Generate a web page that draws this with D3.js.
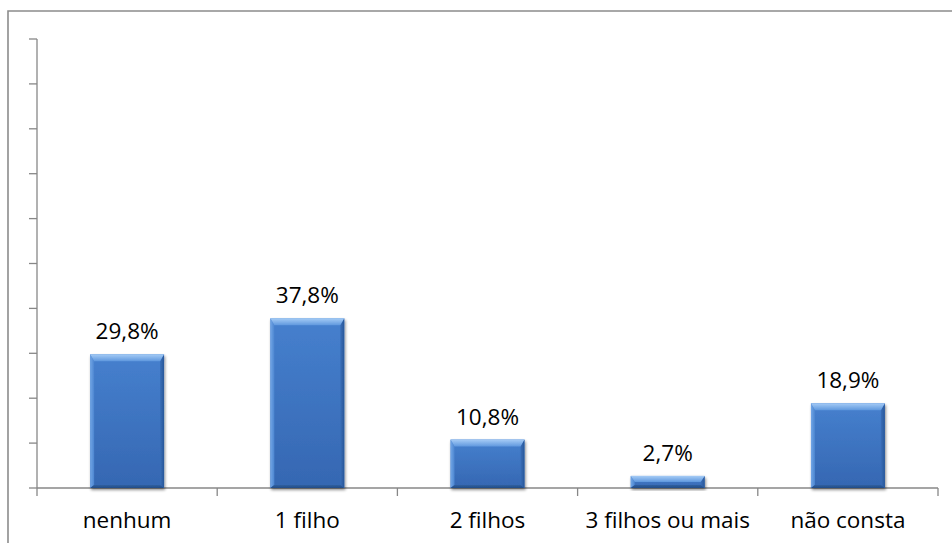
<!DOCTYPE html>
<html>
<head>
<meta charset="utf-8">
<script src="https://cdn.jsdelivr.net/npm/d3@7"></script>
<style>
  html, body { margin: 0; padding: 0; background: #fff; overflow: hidden; }
  svg { display: block; }
  text { font-family: "Open Sans", "Noto Sans", sans-serif; fill: #000; }
</style>
</head>
<body>
<script>
// Number of children: share of respondents (%)
const categories = ["nenhum", "1 filho", "2 filhos", "3 filhos ou mais", "não consta"];
const values = [29.8, 37.8, 10.8, 2.7, 18.9];
const valueLabels = ["29,8%", "37,8%", "10,8%", "2,7%", "18,9%"];
const yTicks = [0, 10, 20, 30, 40, 50, 60, 70, 80, 90, 100];

const W = 952, H = 543;
const plot = { left: 37, right: 938, top: 39, bottom: 488 };

const svg = d3.select("body").append("svg").attr("width", W).attr("height", H);
const defs = svg.append("defs");

// Gradients for the bevelled bar look
function vGrad(id, stops) {
  const g = defs.append("linearGradient").attr("id", id)
    .attr("x1", 0).attr("y1", 0).attr("x2", 0).attr("y2", 1);
  stops.forEach(([o, c]) => g.append("stop").attr("offset", o).attr("stop-color", c));
}
function hGrad(id, stops) {
  const g = defs.append("linearGradient").attr("id", id)
    .attr("x1", 0).attr("y1", 0).attr("x2", 1).attr("y2", 0);
  stops.forEach(([o, c]) => g.append("stop").attr("offset", o).attr("stop-color", c));
}
vGrad("face", [[0, "#4680ce"], [1, "#3567b2"]]);
vGrad("topBevel", [[0, "#a6ccf6"], [1, "#5f98de"]]);
hGrad("leftBevel", [[0, "#72a6e6"], [1, "#4b85d0"]]);
hGrad("rightBevel", [[0, "#3a6fb8"], [1, "#28579a"]]);
vGrad("bottomBevel", [[0, "#2f609f"], [1, "#224c88"]]);

const shadow = defs.append("filter").attr("id", "shadow")
  .attr("x", "-20%").attr("y", "-20%").attr("width", "140%").attr("height", "140%");
shadow.append("feGaussianBlur").attr("in", "SourceAlpha").attr("stdDeviation", 1.6).attr("result", "b");
shadow.append("feOffset").attr("in", "b").attr("dx", 0.5).attr("dy", 1.5).attr("result", "o");
shadow.append("feComponentTransfer").attr("in", "o").attr("result", "s")
  .append("feFuncA").attr("type", "linear").attr("slope", 0.45);
const m = shadow.append("feMerge");
m.append("feMergeNode").attr("in", "s");
m.append("feMergeNode").attr("in", "SourceGraphic");

// Outer chart frame (runs past the right and bottom edges)
svg.append("path")
  .attr("d", `M8,${H + 2} L8,11 L${W + 2},11`)
  .attr("fill", "none").attr("stroke", "#8c8c8c").attr("stroke-width", 1.6);

const x = d3.scaleBand().domain(categories).range([plot.left, plot.right]).padding(0);
const y = d3.scaleLinear().domain([0, 100]).range([plot.bottom, plot.top]);

// Y axis: line and unlabeled ticks
const axisColor = "#878787";
svg.append("line")
  .attr("x1", plot.left).attr("x2", plot.left)
  .attr("y1", y(100)).attr("y2", y(0))
  .attr("stroke", axisColor).attr("stroke-width", 1.3);
svg.selectAll(".ytick").data(yTicks).join("line")
  .attr("x1", plot.left - 8).attr("x2", plot.left)
  .attr("y1", d => y(d)).attr("y2", d => y(d))
  .attr("stroke", axisColor).attr("stroke-width", 1.3);

// X axis: baseline and category separators
svg.append("line")
  .attr("x1", plot.left).attr("x2", plot.right)
  .attr("y1", y(0)).attr("y2", y(0))
  .attr("stroke", axisColor).attr("stroke-width", 1.3);
const bounds = categories.map(c => x(c)).concat([x(categories[categories.length - 1]) + x.bandwidth()]);
svg.selectAll(".xtick").data(bounds).join("line")
  .attr("x1", d => d).attr("x2", d => d)
  .attr("y1", y(0)).attr("y2", y(0) + 8)
  .attr("stroke", axisColor).attr("stroke-width", 1.3);

// Bars with bevelled edges
const barW = x.bandwidth() * 0.41;
const bevel = 7, side = 4, bot = 3;
const bars = svg.selectAll(".bar").data(values).join("g")
  .attr("class", "bar")
  .attr("filter", "url(#shadow)")
  .attr("transform", (d, i) => `translate(${x(categories[i]) + (x.bandwidth() - barW) / 2},${y(d)})`);

bars.each(function (d) {
  const g = d3.select(this);
  const h = y(0) - y(d);
  const bv = Math.min(bevel, h / 2), sd = Math.min(side, h / 2), bt = Math.min(bot, h / 3);
  g.append("rect").attr("width", barW).attr("height", h).attr("fill", "url(#face)");
  g.append("path").attr("fill", "url(#leftBevel)")
    .attr("d", `M0,0 L${sd},${bv} L${sd},${h - bt} L0,${h} Z`);
  g.append("path").attr("fill", "url(#rightBevel)")
    .attr("d", `M${barW},0 L${barW - sd},${bv} L${barW - sd},${h - bt} L${barW},${h} Z`);
  g.append("path").attr("fill", "url(#bottomBevel)")
    .attr("d", `M0,${h} L${sd},${h - bt} L${barW - sd},${h - bt} L${barW},${h} Z`);
  g.append("path").attr("fill", "url(#topBevel)")
    .attr("d", `M0,0 L${barW},0 L${barW - sd},${bv} L${sd},${bv} Z`);
});

// Value labels
svg.selectAll(".vlabel").data(values).join("text")
  .attr("x", (d, i) => x(categories[i]) + x.bandwidth() / 2)
  .attr("y", d => y(d) - 15)
  .attr("text-anchor", "middle")
  .attr("font-size", 22.5)
  .text((d, i) => valueLabels[i]);

// Category labels
svg.selectAll(".clabel").data(categories).join("text")
  .attr("x", d => x(d) + x.bandwidth() / 2)
  .attr("y", 528)
  .attr("text-anchor", "middle")
  .attr("font-size", 22.5)
  .text(d => d);
</script>
</body>
</html>
